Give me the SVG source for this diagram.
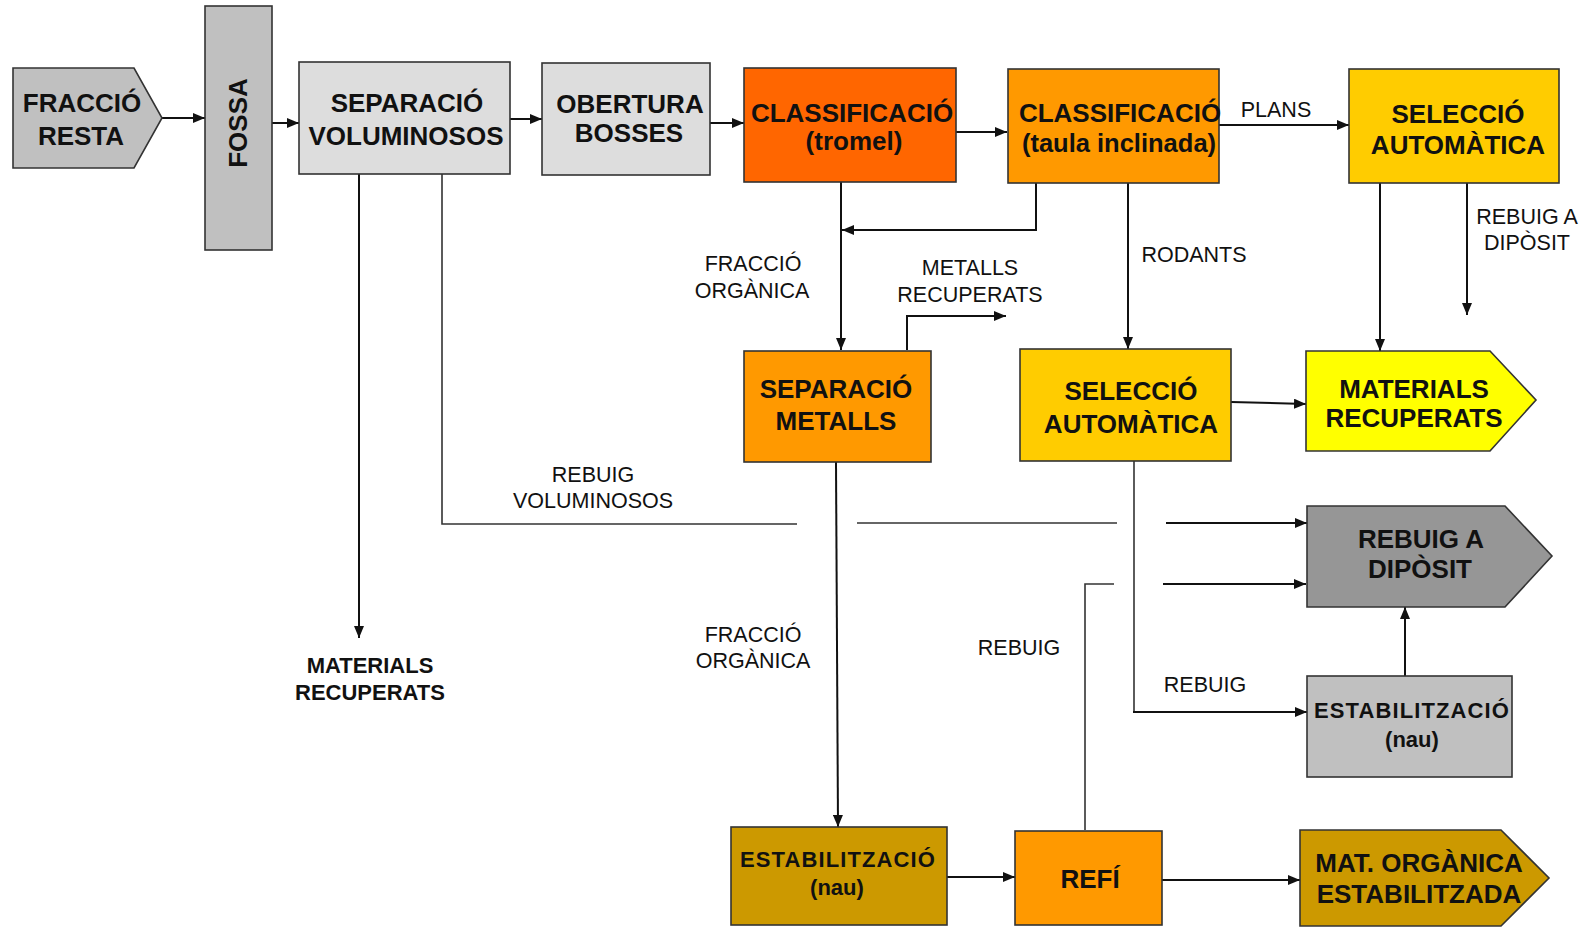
<svg xmlns="http://www.w3.org/2000/svg" width="1588" height="927" viewBox="0 0 1588 927">
<style>
.box{stroke:#333;stroke-width:1.6}
.nt{font-family:"Liberation Sans",Arial,sans-serif;font-weight:bold;font-size:26px;fill:#111;text-anchor:middle}
.lb{font-family:"Liberation Sans",Arial,sans-serif;font-size:21.5px;fill:#111;text-anchor:middle}
.c{fill:none;stroke:#111;stroke-width:2}
.t{fill:none;stroke:#333;stroke-width:1.6}
</style>
<defs>
<marker id="ah" viewBox="0 0 12 10" refX="12" refY="5" markerWidth="12" markerHeight="10" markerUnits="userSpaceOnUse" orient="auto">
<path d="M0,0 L12,5 L0,10 Z" fill="#111"/>
</marker>
</defs>
<rect width="1588" height="927" fill="#fff"/>

<g id="connectors">
<path class="c" d="M162,118 H205" marker-end="url(#ah)"/>
<path class="c" d="M272,123 H299" marker-end="url(#ah)"/>
<path class="c" d="M510,119 H542" marker-end="url(#ah)"/>
<path class="c" d="M710,123 H744" marker-end="url(#ah)"/>
<path class="c" d="M956,132 H1007" marker-end="url(#ah)"/>
<path class="c" d="M1219,125 H1349" marker-end="url(#ah)"/>
<path class="c" d="M841,182 V350" marker-end="url(#ah)"/>
<path class="c" d="M1036,183 V230 H842" marker-end="url(#ah)"/>
<path class="c" d="M1128,183 V349" marker-end="url(#ah)"/>
<path class="c" d="M1380,183 V351" marker-end="url(#ah)"/>
<path class="c" d="M1467,183 V315" marker-end="url(#ah)"/>
<path class="c" d="M907,350 V316 H1006" marker-end="url(#ah)"/>
<path class="c" d="M1231,402 L1306,404" marker-end="url(#ah)"/>
<path class="c" d="M359,174 V638" marker-end="url(#ah)"/>
<path class="t" d="M442,174 V524 H797"/>
<path class="t" d="M857,523 H1117"/>
<path class="c" d="M1166,523 H1307" marker-end="url(#ah)"/>
<path class="c" d="M836,462 L838,827" marker-end="url(#ah)"/>
<path class="t" d="M1134,461 V712"/>
<path class="c" d="M1133,712 H1307" marker-end="url(#ah)"/>
<path class="t" d="M1085,830 V584 H1114"/>
<path class="c" d="M1163,584 H1306" marker-end="url(#ah)"/>
<path class="c" d="M1405,676 V607" marker-end="url(#ah)"/>
<path class="c" d="M947,877 H1015" marker-end="url(#ah)"/>
<path class="c" d="M1162,880 H1300" marker-end="url(#ah)"/>
</g>

<g id="labels">
<text class="lb" x="1276" y="117">PLANS</text>
<text class="lb" x="1527" y="224">REBUIG A</text>
<text class="lb" x="1527" y="250">DIPÒSIT</text>
<text class="lb" x="1194" y="262">RODANTS</text>
<text class="lb" x="753" y="271">FRACCIÓ</text>
<text class="lb" x="752" y="298">ORGÀNICA</text>
<text class="lb" x="970" y="275">METALLS</text>
<text class="lb" x="970" y="302">RECUPERATS</text>
<text class="lb" x="593" y="482">REBUIG</text>
<text class="lb" x="593" y="508">VOLUMINOSOS</text>
<text class="lb" x="753" y="642">FRACCIÓ</text>
<text class="lb" x="753" y="668">ORGÀNICA</text>
<text class="lb" x="1019" y="655">REBUIG</text>
<text class="lb" x="1205" y="692">REBUIG</text>
<text class="nt" x="370" y="673" style="font-size:22px">MATERIALS</text>
<text class="nt" x="370" y="700" style="font-size:22px">RECUPERATS</text>
</g>

<g id="fraccio-resta">
<path class="box" d="M13,68 H134 L162,118 L134,168 H13 Z" fill="#C0C0C0"/>
<text class="nt" x="82" y="112">FRACCIÓ</text>
<text class="nt" x="81" y="145">RESTA</text>
</g>

<g id="fossa">
<rect class="box" x="205" y="6" width="67" height="244" fill="#C0C0C0"/>
<text class="nt" transform="translate(247,123) rotate(-90)">FOSSA</text>
</g>

<g id="separacio-voluminosos">
<rect class="box" x="299" y="62" width="211" height="112" fill="#DDDDDD"/>
<text class="nt" x="407" y="112">SEPARACIÓ</text>
<text class="nt" x="406" y="145">VOLUMINOSOS</text>
</g>

<g id="obertura-bosses">
<rect class="box" x="542" y="63" width="168" height="112" fill="#DDDDDD"/>
<text class="nt" x="630" y="113">OBERTURA</text>
<text class="nt" x="629" y="142">BOSSES</text>
</g>

<g id="classificacio-tromel">
<rect class="box" x="744" y="68" width="212" height="114" fill="#FF6600"/>
<text class="nt" x="852" y="122">CLASSIFICACIÓ</text>
<text class="nt" x="854" y="150">(tromel)</text>
</g>

<g id="classificacio-taula">
<rect class="box" x="1008" y="69" width="211" height="114" fill="#FF9900"/>
<text class="nt" x="1120" y="122">CLASSIFICACIÓ</text>
<text class="nt" x="1119" y="152" style="font-size:25.5px">(taula inclinada)</text>
</g>

<g id="seleccio-automatica-1">
<rect class="box" x="1349" y="69" width="210" height="114" fill="#FFCC00"/>
<text class="nt" x="1458" y="123">SELECCIÓ</text>
<text class="nt" x="1458" y="154">AUTOMÀTICA</text>
</g>

<g id="separacio-metalls">
<rect class="box" x="744" y="351" width="187" height="111" fill="#FF9900"/>
<text class="nt" x="836" y="398">SEPARACIÓ</text>
<text class="nt" x="836" y="430">METALLS</text>
</g>

<g id="seleccio-automatica-2">
<rect class="box" x="1020" y="349" width="211" height="112" fill="#FFCC00"/>
<text class="nt" x="1131" y="400">SELECCIÓ</text>
<text class="nt" x="1131" y="433">AUTOMÀTICA</text>
</g>

<g id="materials-recuperats">
<path class="box" d="M1306,351 H1490 L1536,400 L1490,451 H1306 Z" fill="#FFFF00"/>
<text class="nt" x="1414" y="398">MATERIALS</text>
<text class="nt" x="1414" y="427">RECUPERATS</text>
</g>

<g id="rebuig-diposit">
<path class="box" d="M1307,506 H1505 L1552,556 L1505,607 H1307 Z" fill="#969696"/>
<text class="nt" x="1421" y="548">REBUIG A</text>
<text class="nt" x="1420" y="578">DIPÒSIT</text>
</g>

<g id="estabilitzacio-gris">
<rect class="box" x="1307" y="676" width="205" height="101" fill="#C0C0C0"/>
<text class="nt" x="1412" y="718" style="font-size:22px;letter-spacing:1.1px">ESTABILITZACIÓ</text>
<text class="nt" x="1412" y="747" style="font-size:22px">(nau)</text>
</g>

<g id="estabilitzacio-or">
<rect class="box" x="731" y="827" width="216" height="98" fill="#CC9900"/>
<text class="nt" x="838" y="867" style="font-size:22px;letter-spacing:1.1px">ESTABILITZACIÓ</text>
<text class="nt" x="837" y="895" style="font-size:22px">(nau)</text>
</g>

<g id="refi">
<rect class="box" x="1015" y="831" width="147" height="94" fill="#FF9900"/>
<text class="nt" x="1090" y="888">REFÍ</text>
</g>

<g id="mat-organica">
<path class="box" d="M1300,830 H1501 L1549,878 L1501,926 H1300 Z" fill="#CC9900"/>
<text class="nt" x="1419" y="872">MAT. ORGÀNICA</text>
<text class="nt" x="1419" y="903">ESTABILITZADA</text>
</g>
</svg>
